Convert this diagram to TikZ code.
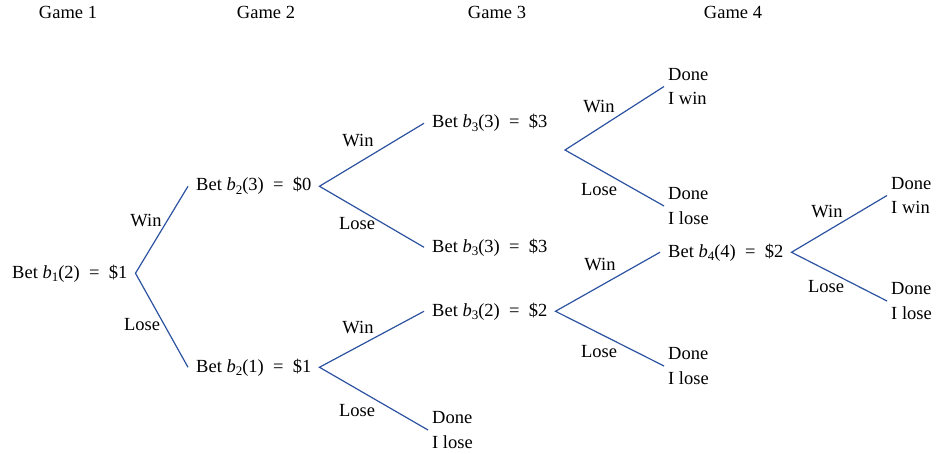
\documentclass[tikz,border=0pt]{standalone}
\usepackage{fontspec}
\setmainfont{Liberation Serif}
\newfontfamily\treefont{Liberation Serif}
\definecolor{treeblue}{RGB}{44,82,160}
\newcommand{\bb}[1]{\textit{b}\raisebox{-0.45ex}{\fontsize{13}{13}\selectfont #1}}
\begin{document}
\begin{tikzpicture}[x=1pt,y=-1pt,font=\treefont\fontsize{18.5}{24.5}\selectfont,
    bet/.style={anchor=base west,inner xsep=8pt,inner ysep=0pt},
    done/.style={anchor=west,align=left,inner xsep=4pt,inner ysep=0pt},
    lbl/.style={inner sep=0pt},
    branch/.style={draw=treeblue,line width=1.2pt}]
    \useasboundingbox (0,0) rectangle (936,454);
    % game headings
    \node[anchor=base] (g1) at (68,18.5) {Game 1};
    \node[anchor=base] (g2) at (266,18.5) {Game 2};
    \node[anchor=base] (g3) at (497,18.5) {Game 3};
    \node[anchor=base] (g4) at (733,18.5) {Game 4};
    % bets
    \node[bet] (b1) at (4,278) {Bet \bb{1}(2)\enspace=\enspace\$1};
    \node[bet] (b2w) at (188,191) {Bet \bb{2}(3)\enspace=\enspace\$0};
    \node[bet] (b2l) at (188,372) {Bet \bb{2}(1)\enspace=\enspace\$1};
    \node[bet] (b3ww) at (424,128) {Bet \bb{3}(3)\enspace=\enspace\$3};
    \node[bet] (b3wl) at (424,252) {Bet \bb{3}(3)\enspace=\enspace\$3};
    \node[bet] (b3lw) at (424,316) {Bet \bb{3}(2)\enspace=\enspace\$2};
    \node[bet] (b4) at (660,257) {Bet \bb{4}(4)\enspace=\enspace\$2};
    \coordinate (v3) at (565,150);
    % end states
    \node[done] (d1) at (664,86.5) {Done\\I win};
    \node[done] (d2) at (664,206) {Done\\I lose};
    \node[done] (d3) at (428,430) {Done\\I lose};
    \node[done] (d4) at (664,366) {Done\\I lose};
    \node[done] (d5) at (887,195.5) {Done\\I win};
    \node[done] (d6) at (887,301) {Done\\I lose};
    % branches
    \draw[branch] (b2w.west) -- (b1.east) -- (b2l.west);
    \draw[branch] (b3ww.west) -- (b2w.east) -- (b3wl.west);
    \draw[branch] (b3lw.west) -- (b2l.east) -- (d3.west);
    \draw[branch] (d1.west) -- (v3) -- (d2.west);
    \draw[branch] (b4.west) -- (b3lw.east) -- (d4.west);
    \draw[branch] (d5.west) -- (b4.east) -- (d6.west);
    % win / lose labels
    \node[lbl] (w1) at (146,221) {Win};
    \node[lbl] (l1) at (142,325) {Lose};
    \node[lbl] (w2) at (358,141) {Win};
    \node[lbl] (l2) at (357,224) {Lose};
    \node[lbl] (w3) at (358,328) {Win};
    \node[lbl] (l3) at (357,411) {Lose};
    \node[lbl] (w4) at (599,107) {Win};
    \node[lbl] (l4) at (599,190) {Lose};
    \node[lbl] (w5) at (600,265) {Win};
    \node[lbl] (l5) at (599,352) {Lose};
    \node[lbl] (w6) at (827,212) {Win};
    \node[lbl] (l6) at (826,287) {Lose};
\end{tikzpicture}
\end{document}
